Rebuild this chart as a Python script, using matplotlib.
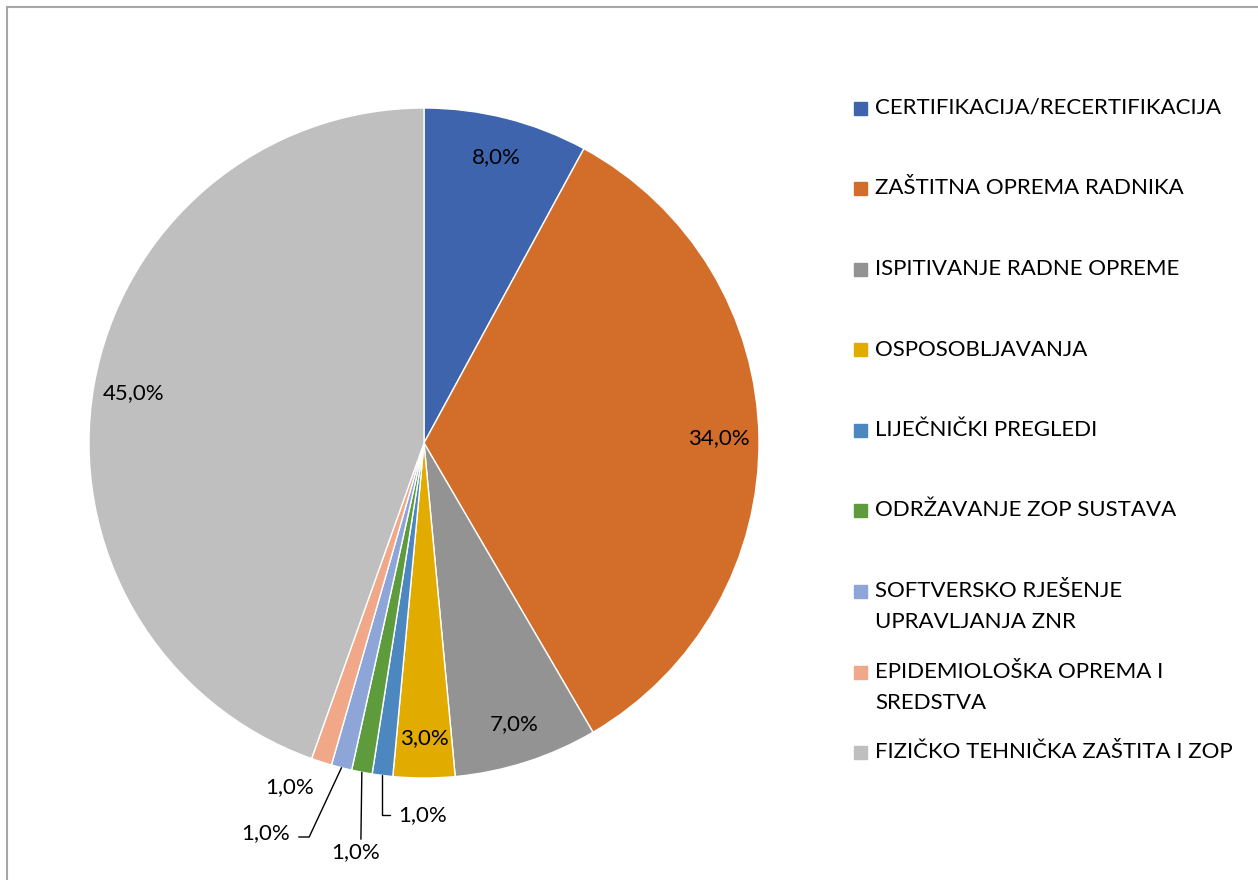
import matplotlib.pyplot as plt
from matplotlib.patches import Rectangle
import numpy as np

# udio troškova po kategorijama (%)
kategorije = ["CERTIFIKACIJA/RECERTIFIKACIJA", "ZAŠTITNA OPREMA RADNIKA",
              "ISPITIVANJE RADNE OPREME", "OSPOSOBLJAVANJA", "LIJEČNIČKI PREGLEDI",
              "ODRŽAVANJE ZOP SUSTAVA", "SOFTVERSKO RJEŠENJE\nUPRAVLJANJA ZNR",
              "EPIDEMIOLOŠKA OPREMA I\nSREDSTVA", "FIZIČKO TEHNIČKA ZAŠTITA I ZOP"]
udio = [8.0, 34.0, 7.0, 3.0, 1.0, 1.0, 1.0, 1.0, 45.0]
boje = ["#3E64AE", "#D36E2A", "#939393", "#E2AB00", "#4C88BF",
        "#5E9B3D", "#8EA5D7", "#F0A889", "#BFBFBF"]

plt.rcParams['font.family'] = ['Lato', 'DejaVu Sans']
W, H = 1258, 880
fig = plt.figure(figsize=(W / 100, H / 100), dpi=100)

# okvir grafa
fig.patches.append(Rectangle((7 / W, -0.1), 1.2, 1 - 7 / H + 0.1, transform=fig.transFigure,
                             fill=False, edgecolor="#A6A6A6", lw=1.5))

cx, cy, r = 424, 443, 335
ax = fig.add_axes([(cx - r) / W, (H - cy - r) / H, 2 * r / W, 2 * r / H])
wedges, _ = ax.pie(udio, colors=boje, startangle=90, counterclock=False, radius=1,
                   wedgeprops=dict(edgecolor="white", linewidth=1))
ax.set_xlim(-1, 1)
ax.set_ylim(-1, 1)
ax.set_aspect("equal")
ax.axis("off")


def px(x, y):
    # pikseli slike -> koordinate osi
    return (x - cx) / r, -(y - cy) / r


fs = 16
for i, w in enumerate(wedges):
    kut = np.deg2rad((w.theta1 + w.theta2) / 2)
    txt = f"{udio[i]:.1f}%".replace(".", ",")
    if udio[i] > 2:
        ax.text(0.88 * np.cos(kut), 0.88 * np.sin(kut), txt, ha="center", va="center", fontsize=fs)
        continue
    rub = (np.cos(kut), np.sin(kut))
    if i == 4:
        ax.annotate(txt, xy=rub, xytext=px(398, 815), ha="left", va="center", fontsize=fs,
                    arrowprops=dict(arrowstyle="-", color="black", lw=1, shrinkA=4, shrinkB=0,
                                    connectionstyle="angle,angleA=0,angleB=90,rad=0"))
    elif i == 5:
        ax.annotate(txt, xy=rub, xytext=px(356, 852), ha="center", va="center", fontsize=fs,
                    arrowprops=dict(arrowstyle="-", color="black", lw=1, shrinkA=0, shrinkB=0,
                                    relpos=(0.6, 1.0)))
    elif i == 6:
        ax.annotate(txt, xy=rub, xytext=px(266, 833), ha="center", va="center", fontsize=fs,
                    arrowprops=dict(arrowstyle="-", color="black", lw=1, shrinkA=4, shrinkB=0,
                                    relpos=(1.0, 0.3),
                                    connectionstyle="angle,angleA=0,angleB=65,rad=0"))
    else:
        ax.text(*px(290, 787), txt, ha="center", va="center", fontsize=fs)

# legenda
for i, (k, b) in enumerate(zip(kategorije, boje)):
    y = 108 + i * 80.5
    fig.patches.append(Rectangle((854 / W, 1 - (y + 7) / H), 13 / W, 13 / H,
                                 transform=fig.transFigure, color=b))
    for j, l in enumerate(k.split("\n")):
        fig.text(875 / W, 1 - (y + j * 31) / H, l, ha="left", va="center", fontsize=fs)

plt.savefig("out.png", dpi=100)
